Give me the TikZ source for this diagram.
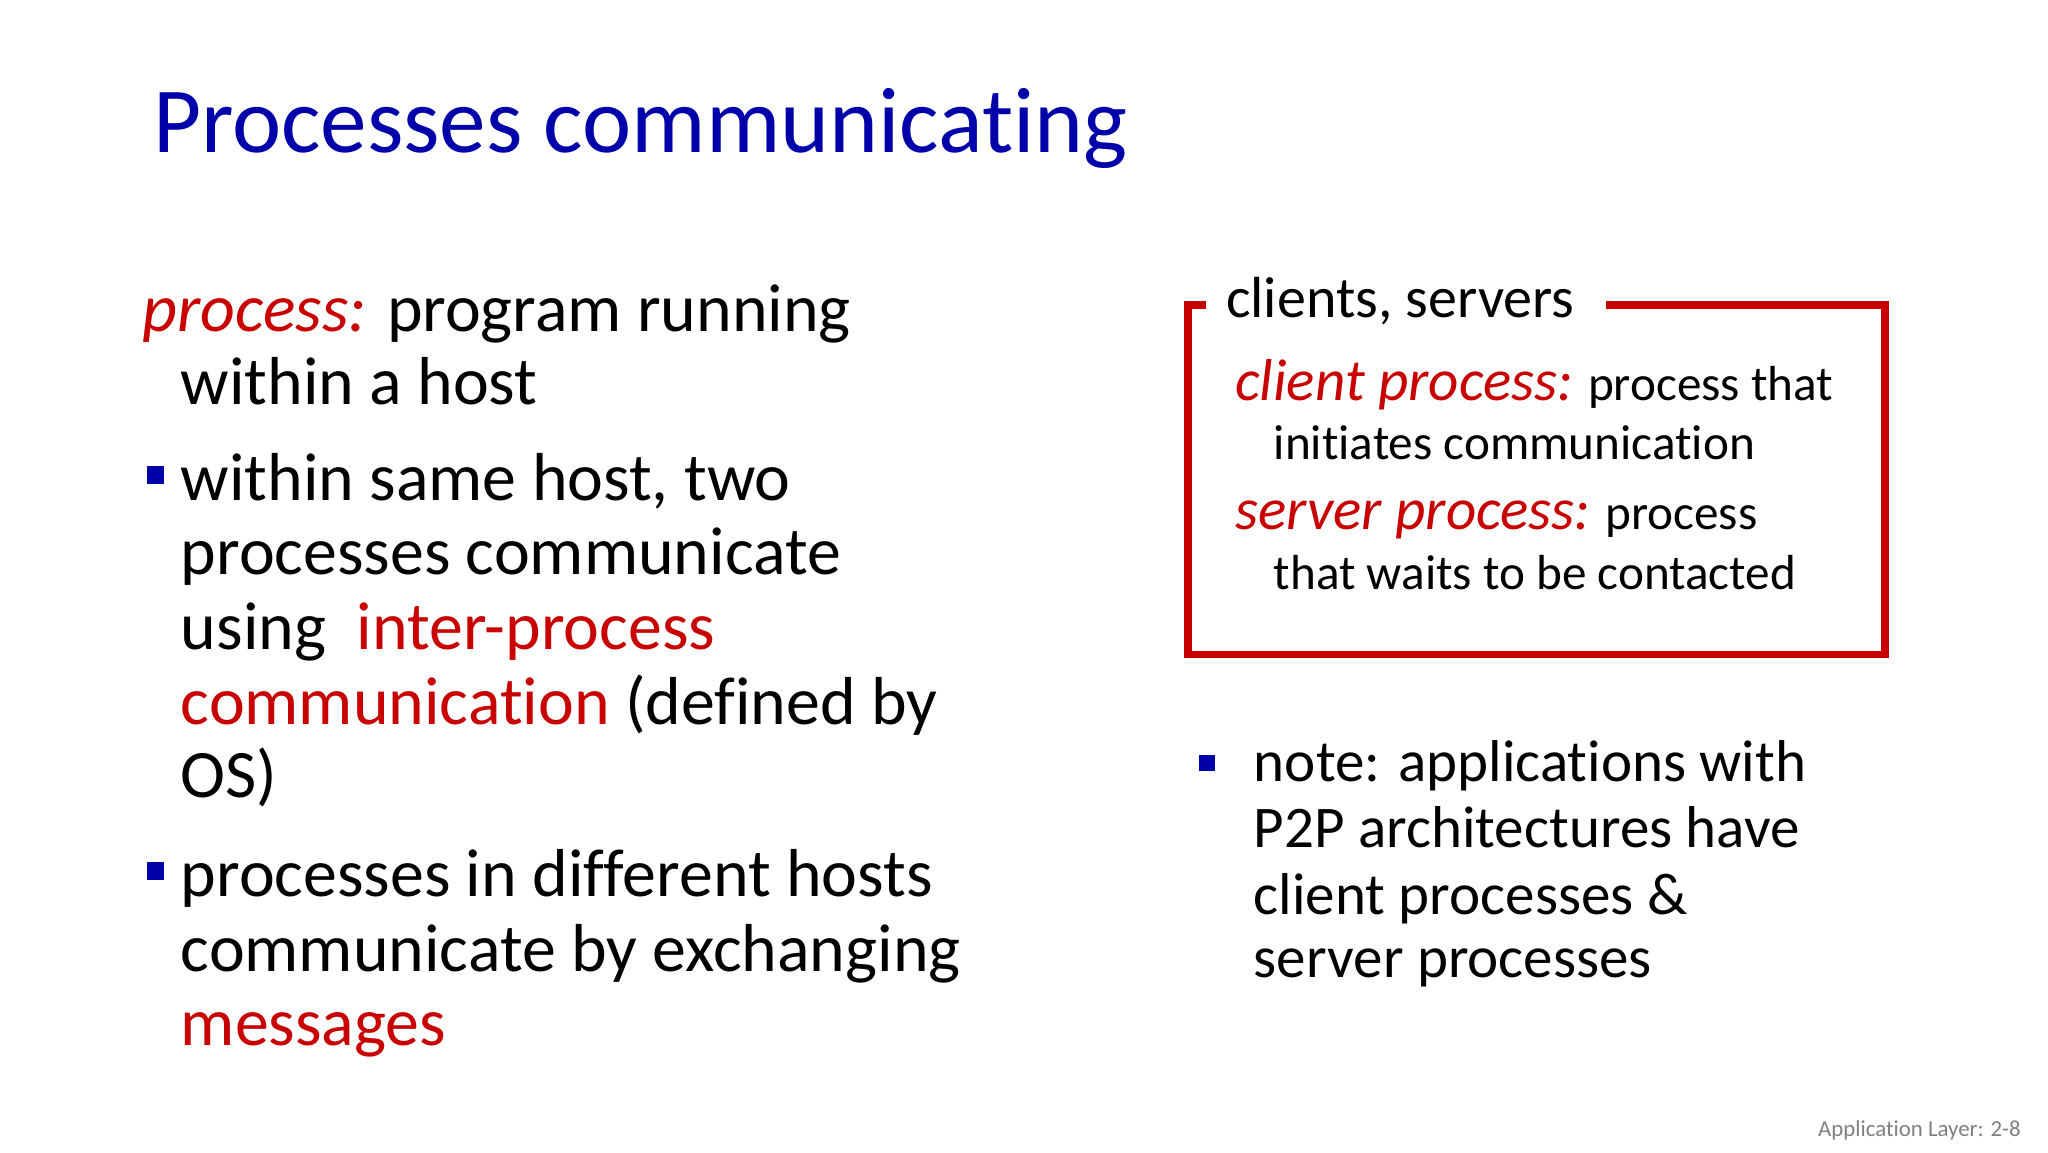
\documentclass[tikz,border=0pt]{standalone}
\usepackage{fontspec}
\setmainfont[Ligatures=NoCommon]{Carlito}
\definecolor{ttl}{RGB}{0,0,170}
\definecolor{rd}{RGB}{200,0,0}
\definecolor{bul}{RGB}{0,0,170}
\begin{document}
\begin{tikzpicture}[x=0.01325cm,y=-0.01325cm,
  txt/.style={anchor=base west,inner sep=0pt},
  body/.style={txt,font=\fontsize{19.3}{21}\selectfont},
  note/.style={txt,font=\fontsize{16.8}{19}\selectfont},
  bx/.style={txt,font=\fontsize{14}{16}\selectfont},
  bsq/.style={fill=bul,draw=none}]
\useasboundingbox[fill=white] (0,0) rectangle (1546,870);
\node[txt,font=\fontsize{26.5}{30}\selectfont,text=ttl] (title) at (115,115) {Processes communicating};
% left column
\node[body] (l1) at (107,250) {\textcolor{rd}{\itshape process:} program running};
\node[body] (l2) at (136,305) {within a host};
\fill[bsq] (111,352) rectangle (124,365);
\node[body] (l3) at (136,378) {within same host, two};
\node[body] (l4) at (136,434) {processes communicate};
\node[body] (l5) at (136,490) {using\ \ \textcolor{rd}{inter-process}};
\node[body] (l6) at (136,547) {\textcolor{rd}{communication} (defined by};
\node[body] (l7) at (136,602) {OS)};
\fill[bsq] (111,651) rectangle (124,664);
\node[body] (l8) at (136,677) {processes in different hosts};
\node[body] (l9) at (136,733) {communicate by exchanging};
\node[body] (l10) at (136,789) {\textcolor{rd}{messages}};
% box
\draw[rd,line width=2.2pt] (910,230) -- (897,230) -- (897,494) -- (1423,494) -- (1423,230) -- (1212,230);
\node[txt,font=\fontsize{16.5}{18}\selectfont] (bt) at (925,240) {clients, servers};
\node[bx] (b1) at (932,302) {{\fontsize{16.8}{18}\selectfont\itshape\textcolor{rd}{client process:}} process that};
\node[bx] (b2) at (961,347) {initiates communication};
\node[bx] (b3) at (932,400) {{\fontsize{16.8}{18}\selectfont\itshape\textcolor{rd}{server process:}} process};
\node[bx] (b4) at (961,445) {that waits to be contacted};
% note
\fill[bsq] (905,570) rectangle (917,582);
\node[note] (n1) at (946,590) {note: applications with};
\node[note] (n2) at (946,640) {P2P architectures have};
\node[note] (n3) at (946,690) {client processes \&};
\node[note] (n4) at (946,738) {server processes};
\node[anchor=base east,inner sep=0pt,font=\fontsize{6.5}{8}\selectfont,text=gray] (ft) at (1526,858) {Application Layer: 2-8};
\end{tikzpicture}
\end{document}
